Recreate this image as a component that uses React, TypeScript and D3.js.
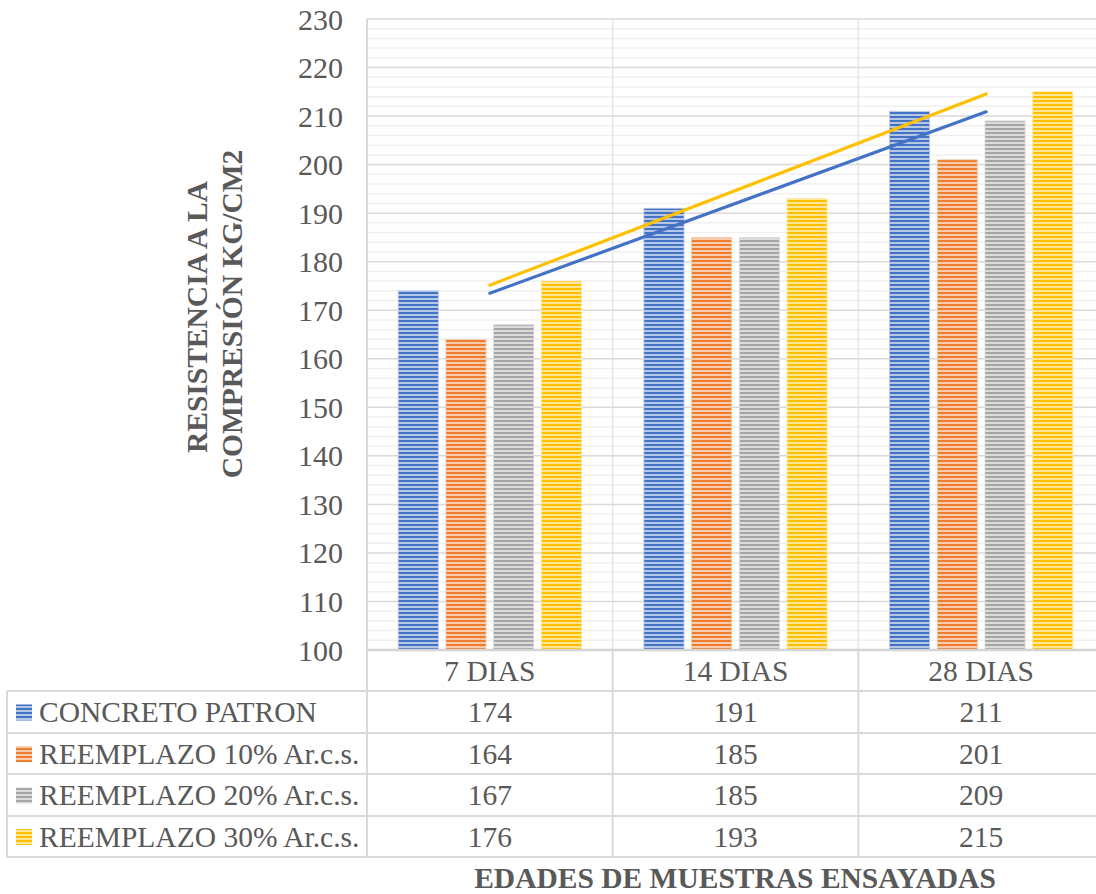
import React from "react";
import * as d3 from "d3";

const categories = ["7 DIAS", "14 DIAS", "28 DIAS"];
const seriesNames = [
  "CONCRETO PATRON",
  "REEMPLAZO 10% Ar.c.s.",
  "REEMPLAZO 20% Ar.c.s.",
  "REEMPLAZO 30% Ar.c.s.",
];
const patron = [174, 191, 211];
const reemplazo10 = [164, 185, 201];
const reemplazo20 = [167, 185, 209];
const reemplazo30 = [176, 193, 215];
const yTicks = [100, 110, 120, 130, 140, 150, 160, 170, 180, 190, 200, 210, 220, 230];

const seriesValues = [patron, reemplazo10, reemplazo20, reemplazo30];
const colors = ["#4472C4", "#ED7D31", "#A5A5A5", "#FFC000"];
const trendSeries = [0, 3]; // linear trendlines drawn for these series

const W = 1096;
const H = 894;
const plotLeft = 367;
const plotRight = 1104;
const plotTop = 19;
const plotBottom = 650;
const tableLeft = 7;
const rowLines = [650, 691, 733, 774, 816, 857];
const font = "'Liberation Serif', 'Times New Roman', serif";
const textColor = "#595959";
const fs = 29.5;

function linearFit(vals: number[]) {
  const xs = vals.map((_, i) => i + 1);
  const mx = d3.mean(xs)!;
  const my = d3.mean(vals)!;
  const slope =
    d3.sum(xs.map((x, i) => (x - mx) * (vals[i] - my))) /
    d3.sum(xs.map((x) => (x - mx) * (x - mx)));
  const intercept = my - slope * mx;
  return (x: number) => intercept + slope * x;
}

export default function App() {
  const x = d3.scaleBand<string>().domain(categories).range([plotLeft, plotRight]).paddingInner(0).paddingOuter(0);
  const inner = d3
    .scaleBand<number>()
    .domain(d3.range(seriesValues.length))
    .range([0, x.bandwidth()])
    .paddingInner(0.16)
    .paddingOuter(0.655);
  const y = d3.scaleLinear().domain([100, 230]).range([plotBottom, plotTop]);
  const minorTicks = d3.range(100, 231, 2).filter((v) => v % 10 !== 0);

  const tint = (c: string) => d3.interpolateRgb(c, "#ffffff")(0.6);

  return (
    <div style={{ position: "absolute", left: 0, top: 0 }}>
      <svg width={W} height={H} style={{ display: "block", background: "#fff" }}>
        <defs>
          {colors.map((c, i) => (
            <pattern key={i} id={`stripe${i}`} patternUnits="userSpaceOnUse" width={4} height={4}>
              <rect width={4} height={4} fill={tint(c)} />
              <rect y={0} width={4} height={2} fill={c} />
            </pattern>
          ))}
        </defs>

        {/* minor gridlines */}
        {minorTicks.map((t) => (
          <line key={`m${t}`} x1={plotLeft} x2={plotRight} y1={y(t)} y2={y(t)} stroke="#f0f0f0" strokeWidth={1.5} />
        ))}
        {/* vertical category gridlines */}
        {categories.map((c) => (
          <line key={`v${c}`} x1={x(c)!} x2={x(c)!} y1={plotTop} y2={plotBottom} stroke="#e6e6e6" strokeWidth={1.5} />
        ))}
        {/* major gridlines */}
        {yTicks.map((t) => (
          <line key={`g${t}`} x1={plotLeft} x2={plotRight} y1={y(t)} y2={y(t)} stroke="#d9d9d9" strokeWidth={1.5} />
        ))}

        {/* tick labels */}
        {yTicks.map((t) => (
          <text
            key={`t${t}`}
            x={343}
            y={y(t)}
            dy="0.35em"
            textAnchor="end"
            fontFamily={font}
            fontSize={30}
            fill={textColor}
          >
            {t}
          </text>
        ))}

        {/* bars */}
        {categories.map((c, ci) =>
          seriesValues.map((vals, si) => (
            <rect
              key={`b${ci}-${si}`}
              x={x(c)! + inner(si)!}
              y={y(vals[ci])}
              width={inner.bandwidth()}
              height={plotBottom - y(vals[ci])}
              fill={`url(#stripe${si})`}
              stroke={tint(colors[si])}
              strokeWidth={0.8}
            />
          ))
        )}

        {/* trendlines */}
        {trendSeries.map((si) => {
          const f = linearFit(seriesValues[si]);
          const x1 = x(categories[0])! + x.bandwidth() / 2;
          const x2 = x(categories[categories.length - 1])! + x.bandwidth() / 2 + 5;
          return (
            <line
              key={`tr${si}`}
              x1={x1}
              x2={x2}
              y1={y(f(1))}
              y2={y(f(3 + 5 / x.bandwidth()))}
              stroke={colors[si]}
              strokeWidth={3.2}
              strokeLinecap="round"
            />
          );
        })}

        {/* data table */}
        <line x1={plotLeft} x2={plotRight} y1={plotBottom} y2={plotBottom} stroke="#d4d4d4" strokeWidth={2.5} />
        {rowLines.slice(1).map((ry) => (
          <line key={`r${ry}`} x1={tableLeft} x2={plotRight} y1={ry} y2={ry} stroke="#d9d9d9" strokeWidth={2} />
        ))}
        <line x1={tableLeft} x2={tableLeft} y1={rowLines[1]} y2={rowLines[5]} stroke="#d9d9d9" strokeWidth={2} />
        <line x1={plotLeft} x2={plotLeft} y1={plotTop} y2={rowLines[5]} stroke="#d9d9d9" strokeWidth={2} />
        {categories.slice(1).map((c) => (
          <line key={`tv${c}`} x1={x(c)!} x2={x(c)!} y1={plotBottom} y2={rowLines[5]} stroke="#d9d9d9" strokeWidth={2} />
        ))}

        {categories.map((c) => (
          <text
            key={`h${c}`}
            x={x(c)! + x.bandwidth() / 2}
            y={(rowLines[0] + rowLines[1]) / 2}
            dy="0.35em"
            textAnchor="middle"
            fontFamily={font}
            fontSize={fs}
            fill={textColor}
          >
            {c}
          </text>
        ))}

        {seriesNames.map((name, si) => {
          const cy = (rowLines[si + 1] + rowLines[si + 2]) / 2;
          return (
            <g key={`row${si}`}>
              <rect x={16} y={cy - 7.5} width={16} height={16} fill={`url(#stripe${si})`} />
              <text x={39} y={cy} dy="0.35em" fontFamily={font} fontSize={fs} fill={textColor}>
                {name}
              </text>
              {categories.map((c, ci) => (
                <text
                  key={`v${si}-${ci}`}
                  x={x(c)! + x.bandwidth() / 2}
                  y={cy}
                  dy="0.35em"
                  textAnchor="middle"
                  fontFamily={font}
                  fontSize={fs}
                  fill={textColor}
                >
                  {seriesValues[si][ci]}
                </text>
              ))}
            </g>
          );
        })}

        {/* axis titles */}
        <text
          transform="translate(197,317) rotate(-90)"
          textAnchor="middle"
          dy="0.35em"
          fontFamily={font}
          fontSize={fs}
          fontWeight="bold"
          fill={textColor}
        >
          RESISTENCIA A LA
        </text>
        <text
          transform="translate(232,314) rotate(-90)"
          textAnchor="middle"
          dy="0.35em"
          fontFamily={font}
          fontSize={fs}
          fontWeight="bold"
          fill={textColor}
        >
          COMPRESIÓN KG/CM2
        </text>
        <text
          x={735}
          y={878}
          dy="0.35em"
          textAnchor="middle"
          fontFamily={font}
          fontSize={fs}
          fontWeight="bold"
          fill={textColor}
        >
          EDADES DE MUESTRAS ENSAYADAS
        </text>
      </svg>
    </div>
  );
}
